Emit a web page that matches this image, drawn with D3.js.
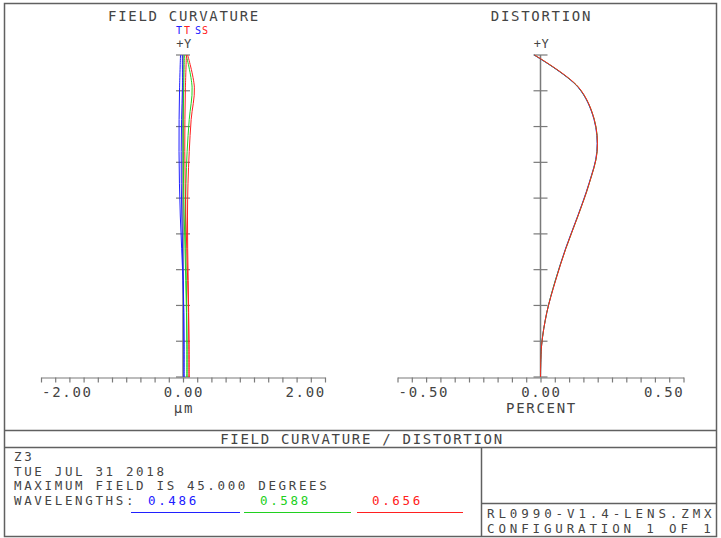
<!DOCTYPE html>
<html><head><meta charset="utf-8">
<script src="https://cdn.jsdelivr.net/npm/d3@7"></script>
<style>
html,body{margin:0;padding:0;background:#fff;}
svg text{font-family:"DejaVu Sans Mono",monospace;font-size:14px;fill:#444;letter-spacing:1.7px;}
</style></head>
<body><svg id="c" width="721" height="538"></svg>
<script>
// ---- data ----
const fieldDeg = [0, 4.5, 9, 13.5, 18, 22.5, 27, 31.5, 36, 40.5, 45];
const wavelengths = ["0.486", "0.588", "0.656"];
const wlColors = ["#2020ff", "#20d020", "#ff2020"];
// field curvature (tangential / sagittal) per wavelength
const fcTan486 = [0.014, 0.014, 0.010, 0.000, -0.019, -0.038, -0.050, -0.056, -0.055, -0.048, -0.035];
const fcSag486 = [0.014, 0.014, 0.011, 0.004, -0.007, -0.017, -0.024, -0.025, -0.020, -0.008, -0.010];
const fcTan588 = [0.056, 0.056, 0.049, 0.039, 0.028, 0.017, 0.008, 0.003, 0.003, 0.010, 0.020];
const fcSag588 = [0.056, 0.056, 0.053, 0.046, 0.039, 0.036, 0.042, 0.058, 0.088, 0.128, 0.045];
const fcTan656 = [0.085, 0.084, 0.077, 0.066, 0.053, 0.040, 0.031, 0.025, 0.027, 0.034, 0.048];
const fcSag656 = [0.085, 0.084, 0.080, 0.073, 0.066, 0.063, 0.070, 0.088, 0.115, 0.160, 0.065];
// distortion (percent) per wavelength
const dist486 = [0, 0.004, 0.022, 0.052, 0.088, 0.130, 0.169, 0.197, 0.187, 0.131, -0.023];
const dist588 = [0, 0.004, 0.022, 0.052, 0.089, 0.131, 0.170, 0.198, 0.188, 0.132, -0.022];
const dist656 = [0, 0.004, 0.022, 0.053, 0.089, 0.131, 0.170, 0.198, 0.188, 0.133, -0.021];
const fcTickLabels = ["-2.00", "0.00", "2.00"];
const distTickLabels = ["-0.50", "0.00", "0.50"];

const svg = d3.select("#c");
const frame = "#606060", axisCol = "#7a7a7a";

// frame
svg.append("rect").attr("x",4.5).attr("y",3.5).attr("width",712).attr("height",533).attr("fill","none").attr("stroke",frame).attr("stroke-width",1.5);
svg.append("line").attr("x1",4.5).attr("x2",716.5).attr("y1",430.5).attr("y2",430.5).attr("stroke",frame).attr("stroke-width",1.5);
svg.append("line").attr("x1",4.5).attr("x2",716.5).attr("y1",447.5).attr("y2",447.5).attr("stroke",frame).attr("stroke-width",1.5);
svg.append("line").attr("x1",481.5).attr("x2",481.5).attr("y1",447.5).attr("y2",536.5).attr("stroke",frame).attr("stroke-width",1.5);
svg.append("line").attr("x1",481.5).attr("x2",716.5).attr("y1",503.5).attr("y2",503.5).attr("stroke",frame).attr("stroke-width",1.5);

const y = d3.scaleLinear().domain([0,45]).range([377,55]);
const fcX = d3.scaleLinear().domain([-2,2]).range([41,325]);
const dX = d3.scaleLinear().domain([-0.5,0.5]).range([397.5,683.5]);

function panel(x, minorStep, labels, title, unit) {
  const g = svg.append("g");
  const ax = d3.axisBottom(x).tickValues(d3.range(x.domain()[0], x.domain()[1]+minorStep/2, minorStep))
     .tickFormat("").tickSizeInner(5).tickSizeOuter(0);
  const ga = g.append("g").attr("transform","translate(0,377.5)").call(ax);
  ga.selectAll("path,line").attr("stroke",axisCol).attr("stroke-width",1.2);
  const d = x.domain();
  const vals = [d[0], 0, d[1]];
  vals.forEach((v,i)=>{
    g.append("text").attr("x", x(v)+1)
     .attr("y",397).attr("text-anchor", i===0?"start":i===2?"end":"middle").text(labels[i]);
  });
  g.append("text").attr("x",x(0)+1).attr("y",413).attr("text-anchor","middle").text(unit);
  g.append("line").attr("x1",x(0)).attr("x2",x(0)).attr("y1",y(0)).attr("y2",y(45)).attr("stroke",axisCol).attr("stroke-width",1.5);
  y.ticks(10).forEach(t=>{
    g.append("line").attr("x1",x(0)-7).attr("x2",x(0)+7).attr("y1",y(t)).attr("y2",y(t)).attr("stroke",axisCol).attr("stroke-width",1.2);
  });
  g.append("text").attr("x",x(0)+1).attr("y",48).attr("text-anchor","middle").style("font-size","12px").style("letter-spacing","0.5px").text("+Y");
  g.append("text").attr("x",x(0)+1).attr("y",21).attr("text-anchor","middle").text(title);
  return g;
}

const g1 = panel(fcX, 0.2, fcTickLabels, "FIELD CURVATURE", "\u03BCm");
const g2 = panel(dX, 0.05, distTickLabels, "DISTORTION", "PERCENT");

const line = (x, vals) => d3.line().x((d,i)=>x(d)).y((d,i)=>y(fieldDeg[i])).curve(d3.curveCatmullRom)(vals);
const fcSeries = [[fcTan486,fcSag486],[fcTan588,fcSag588],[fcTan656,fcSag656]];
fcSeries.forEach((s,k)=>{
  s.forEach(v=>{
    g1.append("path").attr("d",line(fcX,v)).attr("fill","none").attr("stroke",wlColors[k]).attr("stroke-width",1);
  });
});
[dist486,dist588,dist656].forEach((v,k)=>{
  g2.append("path").attr("d",line(dX,v)).attr("fill","none").attr("stroke",wlColors[k]).attr("stroke-width",1);
});
// T / S labels
const tsg = svg.append("g");
[["T",176,0],["T",184,2],["S",195,0],["S",202,2]].forEach(a=>{
  tsg.append("text").attr("x",a[1]).attr("y",34).text(a[0]).style("fill",wlColors[a[2]])
     .style("font-size","10px").style("letter-spacing","0px");
});

// bottom block
svg.append("text").attr("x",362).attr("y",444).attr("text-anchor","middle").text("FIELD CURVATURE / DISTORTION");
const info = ["Z3","TUE JUL 31 2018","MAXIMUM FIELD IS 45.000 DEGREES","WAVELENGTHS:"];
info.forEach((t,i)=>svg.append("text").attr("x",14).attr("y",461+i*14.5)
  .style("font-size","12.5px").style("letter-spacing","2.65px").text(t));
const wlX = [148, 260, 372];
const legX = [[131,240],[244,351],[357,463]];
wavelengths.forEach((w,i)=>{
  svg.append("text").attr("x",wlX[i]).attr("y",504.5).text(w).style("fill",wlColors[i])
     .style("font-size","12.5px").style("letter-spacing","2.65px");
  svg.append("line").attr("x1",legX[i][0]).attr("x2",legX[i][1]).attr("y1",512.5).attr("y2",512.5).attr("stroke",wlColors[i]).attr("stroke-width",1);
});
svg.append("text").attr("x",487).attr("y",518).style("font-size","12.5px").style("letter-spacing","3.9px").text("RL0990-V1.4-LENS.ZMX");
svg.append("text").attr("x",487).attr("y",533).style("font-size","12.5px").style("letter-spacing","3.85px").text("CONFIGURATION 1 OF 1");
</script></body></html>
